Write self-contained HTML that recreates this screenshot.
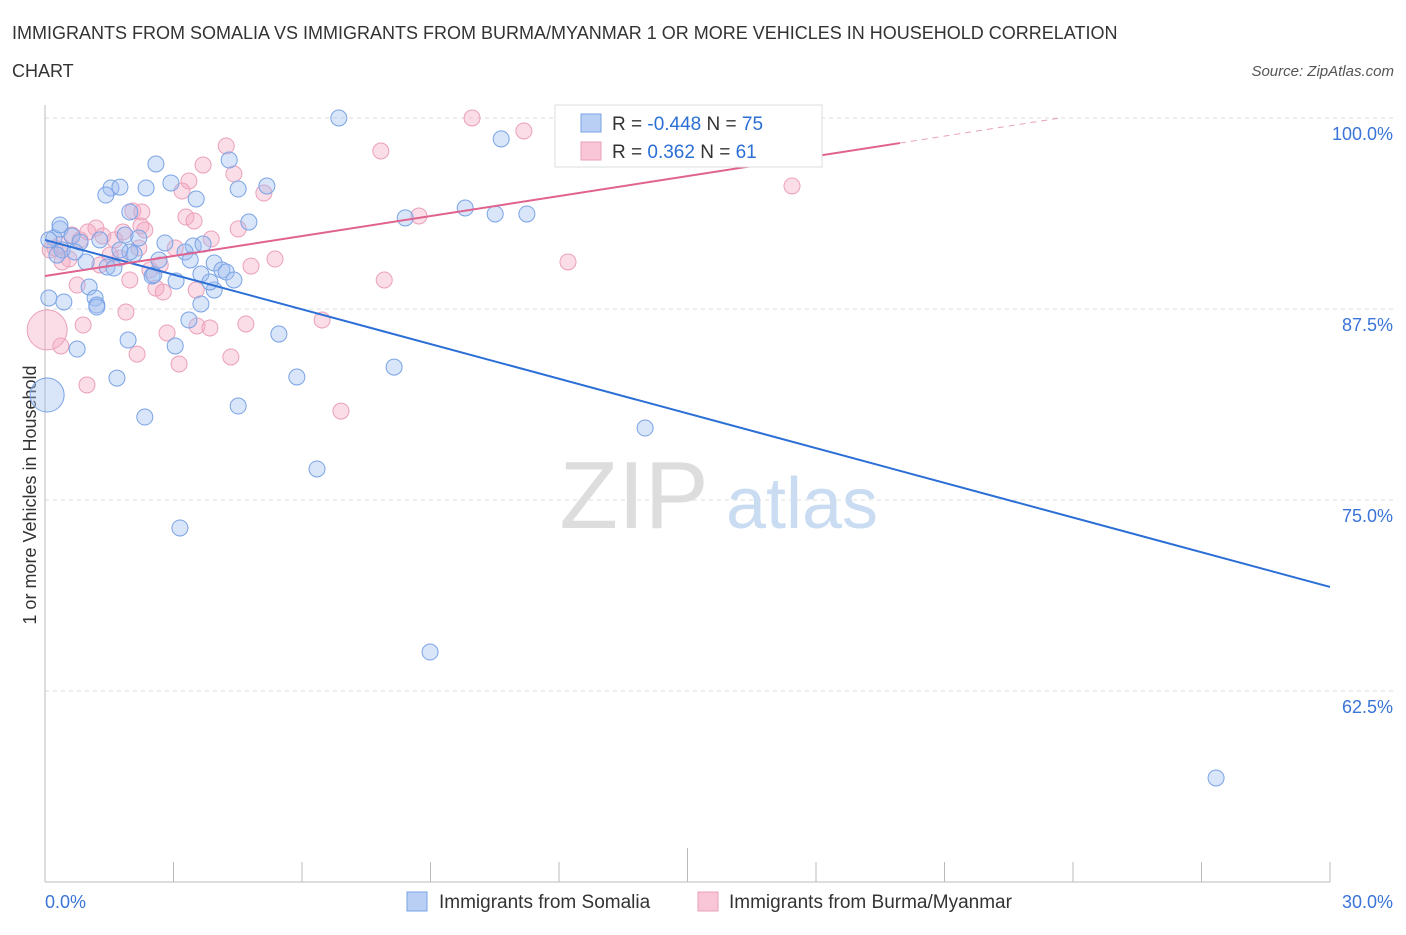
<!DOCTYPE html>
<html><head><meta charset="utf-8"><style>
body{margin:0;background:#fff;font-family:"Liberation Sans",sans-serif;}
svg text{font-family:"Liberation Sans",sans-serif;}
</style></head><body>
<svg id="c" width="1406" height="930" xmlns="http://www.w3.org/2000/svg">
<text x="12" y="39" font-size="18" fill="#333">IMMIGRANTS FROM SOMALIA VS IMMIGRANTS FROM BURMA/MYANMAR 1 OR MORE VEHICLES IN HOUSEHOLD CORRELATION</text>
<text x="12" y="77" font-size="18" fill="#333">CHART</text>
<text x="1394" y="76" font-size="15" fill="#555" font-style="italic" text-anchor="end">Source: ZipAtlas.com</text>
<text x="36" y="495" font-size="18" fill="#333" text-anchor="middle" transform="rotate(-90 36 495)">1 or more Vehicles in Household</text>
<g id="grid"></g>
<text x="634" y="528" font-size="96" fill="#ddd" font-family="Liberation Serif" text-anchor="middle">ZIP</text>
<text x="802" y="528" font-size="72" fill="#c9dcf2" text-anchor="middle">atlas</text>
<g id="pts"></g>
<g id="lines"></g>
<g>
<rect x="555" y="105" width="267" height="62" fill="#fff" stroke="#ddd"/>
<rect x="581" y="114" width="20" height="18" fill="#b9cff4" stroke="#7aa3e5"/>
<text x="612" y="130" font-size="19" fill="#333">R = <tspan fill="#2b6fd6">-0.448</tspan>   N = <tspan fill="#2b6fd6">75</tspan></text>
<rect x="581" y="142" width="20" height="18" fill="#f8c6d6" stroke="#eaa0ba"/>
<text x="612" y="158" font-size="19" fill="#333">R =   <tspan fill="#2b6fd6">0.362</tspan>   N =  <tspan fill="#2b6fd6">61</tspan></text>
</g>
<g>
<rect x="407" y="892" width="20" height="19" fill="#b9cff4" stroke="#7aa3e5"/>
<text x="439" y="908" font-size="19" fill="#333">Immigrants from Somalia</text>
<rect x="698" y="892" width="20" height="19" fill="#f8c6d6" stroke="#eaa0ba"/>
<text x="729" y="908" font-size="19" fill="#333">Immigrants from Burma/Myanmar</text>
</g>
</svg>
<script>
const yTicks=[100,87.5,75,62.5];
const yTickLabels=["100.0%","87.5%","75.0%","62.5%"];
const xTickLabels=["0.0%","30.0%"];
const blueX=[6.86,10.65,2.59,4.30,1.54,1.75,2.36,2.94,4.51,5.18,1.42,3.53,1.98,4.76,8.41,9.81,10.51,11.25,0.35,0.21,0.63,0.82,1.28,1.87,2.19,2.80,3.46,3.69,3.27,0.40,0.70,0.96,1.45,2.08,2.66,1.61,2.50,3.06,3.64,3.95,4.13,4.23,4.41,3.95,1.03,1.17,1.21,0.09,0.44,3.64,3.36,5.46,1.94,3.04,0.75,1.68,5.88,8.15,2.33,4.51,14.01,6.35,3.15,8.99,27.34,0.05,0.09,1.21,0.28,1.98,1.75,3.39,2.54,3.85,0.35];
const blueY=[100.0,98.63,96.99,97.25,95.42,95.48,95.42,95.75,95.35,95.55,94.96,94.70,93.85,93.19,93.46,94.11,93.72,93.72,92.74,92.15,92.28,91.88,92.02,92.34,92.15,91.82,91.62,91.75,91.23,91.36,91.23,90.58,90.25,91.10,90.71,90.18,89.66,89.33,89.79,90.51,90.05,89.92,89.40,88.74,88.94,88.22,87.76,88.22,87.96,87.83,86.78,85.86,85.47,85.08,84.88,82.98,83.05,83.70,80.43,81.15,79.71,77.03,73.17,65.05,56.81,81.87,92.02,87.63,91.03,91.23,91.36,90.71,89.73,89.27,93.00];
const blueBig=[65];
const pinkX=[9.97,11.18,4.23,7.84,3.69,3.36,4.41,5.11,3.20,17.44,2.05,2.26,3.29,3.48,2.24,1.19,1.82,1.35,1.63,0.63,0.82,0.23,0.56,0.40,1.75,2.19,2.45,3.04,3.88,4.51,5.37,4.81,12.21,8.73,7.92,1.98,2.59,2.76,0.75,0.89,1.89,2.85,3.55,3.85,4.69,6.47,2.15,0.37,3.13,4.34,0.98,6.91,0.05,0.12,1.28,2.33,2.69,0.35,1.52,1.00,3.53];
const pinkY=[100.0,99.15,98.17,97.84,96.92,95.88,96.34,95.09,95.22,95.55,93.91,93.85,93.52,93.26,92.93,92.80,92.54,92.28,92.02,92.34,92.02,91.49,90.77,90.58,90.84,91.49,90.05,91.49,92.08,92.74,90.77,90.31,90.58,93.59,89.40,89.40,88.87,88.61,89.07,86.45,87.30,85.93,86.39,86.26,86.52,86.78,84.55,85.08,83.90,84.36,82.53,80.82,86.13,91.36,90.38,92.67,90.38,91.69,91.03,92.54,88.74];
const pinkBig=[52];
const blueLine=[[0,92.02],[30,69.31]];
const pinkLine=[[0,89.66],[19.96,98.36]];
const pinkDash=[[19.96,98.36],[23.7,100]];
const NS="http://www.w3.org/2000/svg";
const X=v=>45+v*(1285/30);
const Y=v=>118+(100-v)*(191/12.5);
function mk(t,a,p){const e=document.createElementNS(NS,t);for(const k in a)e.setAttribute(k,a[k]);p.appendChild(e);return e;}
const g=document.getElementById('grid');
yTicks.forEach((t,i)=>{
 const l=mk('line',{x1:45,x2:1395,y1:Y(t),y2:Y(t),stroke:'#ddd','stroke-dasharray':'4,4'},g);
 
 
 const tx=mk('text',{x:1393,y:Y(t)+22,'font-size':18,fill:'#3a74d8','text-anchor':'end'},g);
 tx.textContent=yTickLabels[i];
 
 
});
const ax=mk('line',{x1:45,x2:1330,y1:882,y2:882,stroke:'#bbb'},g);


const ay=mk('line',{x1:45,x2:45,y1:105,y2:882,stroke:'#bbb'},g);


for(let i=0;i<=10;i++){
 const t=mk('line',{x1:X(i*3),x2:X(i*3),y1:i==5?848:862,y2:882,stroke:'#bbb'},g);
 
 
}
[[0,'start',45],[30,'end',1393]].forEach((d,i)=>{
 const tx=mk('text',{x:d[2],y:908,'font-size':18,fill:'#3a74d8','text-anchor':d[1]},g);
 tx.textContent=xTickLabels[i];
 
 
});
const pg=document.getElementById('pts');
pinkX.forEach((x,i)=>{
 const c=mk('circle',{cx:X(x),cy:Y(pinkY[i]),r:pinkBig.includes(i)?20:8,fill:'rgba(245,170,195,0.4)',stroke:'#eaa0ba','stroke-width':1},pg);
 
 
});
blueX.forEach((x,i)=>{
 const c=mk('circle',{cx:X(x),cy:Y(blueY[i]),r:blueBig.includes(i)?17:8,fill:'rgba(160,190,240,0.4)',stroke:'#7aa3e5','stroke-width':1},pg);
 
 
});
const lg=document.getElementById('lines');
const bl=mk('line',{x1:X(blueLine[0][0]),y1:Y(blueLine[0][1]),x2:X(blueLine[1][0]),y2:Y(blueLine[1][1]),stroke:'#2b6fd6','stroke-width':2},lg);


const pl=mk('line',{x1:X(pinkLine[0][0]),y1:Y(pinkLine[0][1]),x2:X(pinkLine[1][0]),y2:Y(pinkLine[1][1]),stroke:'#e0628f','stroke-width':2},lg);


const pd=mk('line',{x1:X(pinkDash[0][0]),y1:Y(pinkDash[0][1]),x2:X(pinkDash[1][0]),y2:Y(pinkDash[1][1]),stroke:'#eaa0ba','stroke-width':1,'stroke-dasharray':'6,5'},lg);


</script>
</body></html>
